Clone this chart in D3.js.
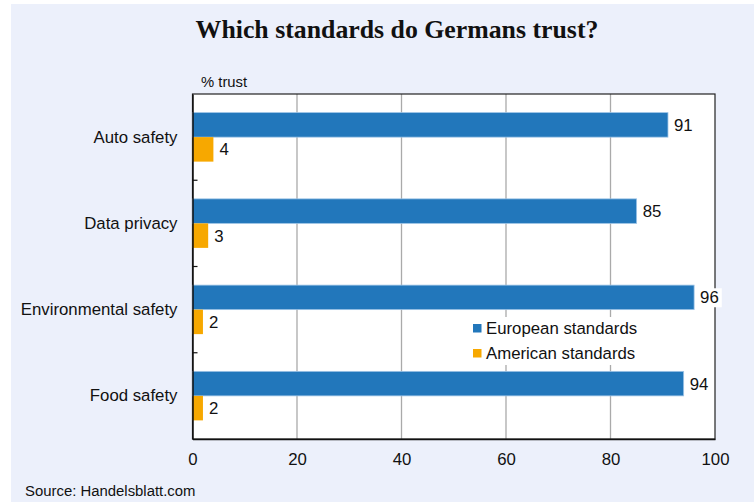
<!DOCTYPE html>
<html><head><meta charset="utf-8">
<script src="https://cdn.jsdelivr.net/npm/d3@7"></script>
<style>
html,body{margin:0;padding:0;background:#fff;}
svg{display:block;}
</style></head>
<body>
<script>
const categories = ["Auto safety", "Data privacy", "Environmental safety", "Food safety"];
const european = [91, 85, 96, 94];
const american = [4, 3, 2, 2];
const seriesNames = ["European standards", "American standards"];
const xTicks = [0, 20, 40, 60, 80, 100];
const title = "Which standards do Germans trust?";
const unitLabel = "% trust";
const source = "Source: Handelsblatt.com";

const W = 754, H = 502;
const colors = ["#2277BB", "#F7A800"];
const font = "Liberation Sans, Arial, sans-serif";
const fs = 16.8;

const svg = d3.select("body").append("svg").attr("width", W).attr("height", H);
svg.append("rect").attr("x", 11).attr("y", 4).attr("width", W - 11).attr("height", H - 4).attr("fill", "#ECF0FB");

const m = {left: 192.5, right: 715, top: 94, bottom: 439};
const x = d3.scaleLinear().domain([0, 100]).range([m.left, m.right]);
const band = d3.scaleBand().domain(categories).range([m.top, m.bottom]);
const sub = d3.scaleBand().domain([0, 1]).range([0, band.bandwidth()]).paddingInner(0).paddingOuter(0.76);

// plot background
svg.append("rect").attr("x", m.left).attr("y", m.top).attr("width", m.right - m.left).attr("height", m.bottom - m.top).attr("fill", "#fff");

// gridlines
svg.append("g").selectAll("line").data(xTicks.filter(d => d > 0 && d < 100)).join("line")
  .attr("x1", d => x(d)).attr("x2", d => x(d)).attr("y1", m.top).attr("y2", m.bottom)
  .attr("stroke", "#AAAAAA").attr("stroke-width", 1.3);

// plot border
svg.append("rect").attr("x", m.left).attr("y", m.top).attr("width", m.right - m.left).attr("height", m.bottom - m.top)
  .attr("fill", "none").attr("stroke", "#222").attr("stroke-width", 1.2);

// bars
const series = [european, american];
series.forEach((vals, si) => {
  svg.append("g").selectAll("rect").data(categories).join("rect")
    .attr("x", x(0)).attr("y", d => band(d) + sub(si))
    .attr("width", (d, i) => x(vals[i]) - x(0)).attr("height", sub.bandwidth())
    .attr("fill", colors[si])
    .attr("stroke", si === 0 ? "#9CC3E6" : "none").attr("stroke-width", 0.8);
});

// value labels with white backgrounds
series.forEach((vals, si) => {
  const g = svg.append("g");
  categories.forEach((c, i) => {
    const tx = x(vals[i]) + 6;
    const ty = band(c) + sub(si) + sub.bandwidth() / 2;
    const t = g.append("text").attr("x", tx).attr("y", ty).attr("dy", "0.35em")
      .attr("font-family", font).attr("font-size", fs).attr("fill", "#111").text(vals[i]);
    const bb = t.node().getBBox();
    g.insert("rect", "text").attr("x", bb.x - 3).attr("y", bb.y).attr("width", bb.width + 6).attr("height", bb.height).attr("fill", "#fff");
  });
});

// legend
const lg = svg.append("g");
lg.append("rect").attr("x", 469).attr("y", 317).attr("width", 176).attr("height", 48).attr("fill", "#fff");
seriesNames.forEach((n, i) => {
  const ly = 328 + i * 25;
  lg.append("rect").attr("x", 473).attr("y", ly - 4).attr("width", 8.5).attr("height", 8.5).attr("fill", colors[i]);
  lg.append("text").attr("x", 486).attr("y", ly).attr("dy", "0.35em").attr("font-family", font).attr("font-size", fs).attr("fill", "#111").text(n);
});

// x axis
const xAxis = svg.append("g").attr("transform", `translate(0,${m.bottom})`)
  .call(d3.axisBottom(x).tickValues(xTicks).tickSize(0).tickPadding(14));
xAxis.select(".domain").attr("stroke", "#111").attr("stroke-width", 1.5);
xAxis.selectAll("text").attr("font-family", font).attr("font-size", fs).attr("fill", "#111");

// y axis
const yAxis = svg.append("g").attr("transform", `translate(${m.left},0)`)
  .call(d3.axisLeft(band).tickSize(0).tickPadding(15));
yAxis.select(".domain").attr("stroke", "#111").attr("stroke-width", 1.5);
yAxis.selectAll("text").attr("font-family", font).attr("font-size", fs).attr("fill", "#111");
// band boundary ticks inside plot
svg.append("g").selectAll("line").data(categories.slice(1)).join("line")
  .attr("x1", m.left).attr("x2", m.left + 5).attr("y1", d => band(d)).attr("y2", d => band(d))
  .attr("stroke", "#111").attr("stroke-width", 1.2);

// texts
svg.append("text").attr("x", 397).attr("y", 38).attr("text-anchor", "middle")
  .attr("font-family", "Liberation Serif, Times New Roman, serif").attr("font-weight", "bold").attr("font-size", 25.8).attr("fill", "#111").text(title);
svg.append("text").attr("x", 201).attr("y", 87).attr("font-family", font).attr("font-size", 14.8).attr("fill", "#111").text(unitLabel);
svg.append("text").attr("x", 25).attr("y", 496).attr("font-family", font).attr("font-size", 14.9).attr("fill", "#111").text(source);
</script>
</body></html>
